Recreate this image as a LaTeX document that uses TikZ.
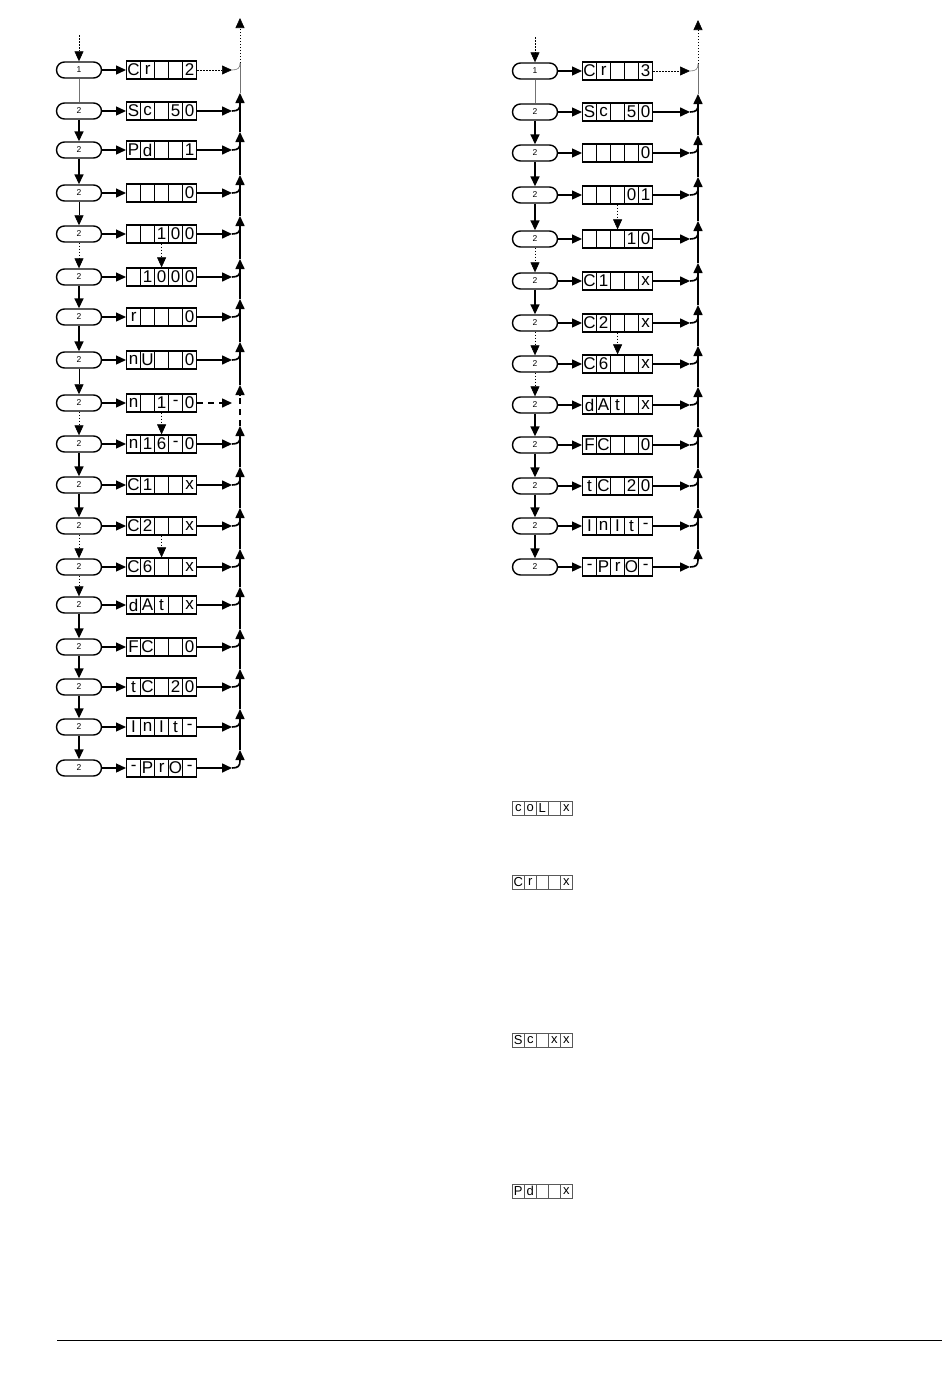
\documentclass[tikz,border=0pt]{standalone}
\usepackage{fontspec}
\setmainfont{Liberation Sans}
\usetikzlibrary{arrows.meta,positioning,calc}

\begin{document}
\begin{tikzpicture}[x=1pt, y=-1pt,
    keybox/.style={draw, line width=1.4pt, rounded corners=8pt, minimum width=45pt, minimum height=16pt, inner sep=0pt, font=\fontsize{8.5}{8.5}\selectfont},
    digit/.style={draw, line width=1.2pt, minimum width=14pt, minimum height=18pt, inner sep=0pt, anchor=west, font=\fontsize{17}{17}\selectfont},
    minidigit/.style={draw=black!65, line width=0.5pt, minimum width=12pt, minimum height=14pt, inner sep=0pt, anchor=west, font=\fontsize{13}{13}\selectfont},
    flow/.style={line width=1.6pt, -{Triangle[length=10pt,width=9pt]}},
    feed/.style={line width=1.3pt, -{Triangle[length=10pt,width=9pt]}},
    slim/.style={line width=0.7pt, -{Triangle[length=10pt,width=9pt]}},
    bus/.style={line width=1.6pt},
    hint/.style={line width=0.6pt, dash pattern=on 1.5pt off 1.5pt, -{Triangle[length=10pt,width=9pt]}},
    faint/.style={line width=0.6pt, black!55},
    gapline/.style={line width=1.6pt, dash pattern=on 6pt off 5pt}
]
\useasboundingbox (0,0) rectangle (950,1379);

% left column
\foreach \y/\digits [count=\i] in {
    70/{C,r,{},{},2}, 111/{S,c,{},5,0}, 150/{P,d,{},{},1}, 193/{{},{},{},{},0},
    234/{{},{},1,0,0}, 277/{{},1,0,0,0}, 317/{r,{},{},{},0}, 360/{n,U,{},{},0},
    403/{n,{},1,-,0}, 444/{n,1,6,-,0}, 485/{C,1,{},{},x}, 526/{C,2,{},{},x},
    567/{C,6,{},{},x}, 605/{d,A,t,{},x}, 647/{F,C,{},{},0}, 687/{t,C,{},2,0},
    727/{I,n,I,t,-}, 768/{-,P,r,O,-}}
{
    \node[keybox] (lk\i) at (79,\y) {\ifnum\i=1 1\else 2\fi};
    \foreach \ch [count=\k] in \digits
        \node[digit] (l\i-\k) at ({126+14*(\k-1)},\y) {\ch};
    \coordinate (lj\i) at (232,\y);
    \coordinate (lv\i) at (240,\y-7);
    \coordinate (lt\i) at (240,\y-18);
}
\coordinate (lin) at (79,35);
\coordinate (ltop) at (240,18);

\foreach \i in {1,...,18}
    \draw[feed] (lk\i) -- (l\i-1);
\foreach \i in {2,3,4,5,6,7,8,10,11,12,13,14,15,16,17,18} {
    \draw[flow] (l\i-5) -- (lj\i);
    \draw[bus] (lj\i) .. controls +(6,0) and +(0,5) .. (lv\i);
}
\foreach \i in {2,...,18}
    \draw[flow] (lv\i) -- (lt\i);
\foreach \i [evaluate=\i as \j using int(\i+1)] in {2,3,4,5,6,7,8,10,11,12,13,14,15,16,17}
    \draw[bus] (lt\j) -- (lv\i);
\draw[gapline] (lt10) -- (lv9);
\draw[gapline, -{Triangle[length=10pt,width=9pt]}] (l9-5) -- (lj9);

% first row of the left column
\draw[hint] (lin) -- (lk1);
\draw[faint] (lk1) -- (lk2);
\draw[hint] (l1-5) -- (lj1);
\draw[faint] (lj1) .. controls +(6,0) and +(0,5) .. (lv1);
\draw[faint] (lt2) -- (lv1);
\draw[hint] (lv1) -- (ltop);

\foreach \i/\j in {2/3,3/4,6/7,7/8,10/11,11/12,14/15,15/16,16/17,17/18}
    \draw[flow] (lk\i) -- (lk\j);
\foreach \i/\j in {4/5,8/9}
    \draw[slim] (lk\i) -- (lk\j);
\foreach \i/\j in {5/6,9/10,12/13,13/14}
    \draw[hint] (lk\i) -- (lk\j);
\foreach \i/\j in {5/6,9/10,12/13}
    \draw[hint] (l\i-3) -- (l\j-3);

% right column
\foreach \y/\digits [count=\i] in {
    71/{C,r,{},{},3}, 112/{S,c,{},5,0}, 153/{{},{},{},{},0}, 195/{{},{},{},0,1},
    239/{{},{},{},1,0}, 281/{C,1,{},{},x}, 323/{C,2,{},{},x}, 364/{C,6,{},{},x},
    405/{d,A,t,{},x}, 445/{F,C,{},{},0}, 486/{t,C,{},2,0}, 526/{I,n,I,t,-},
    567/{-,P,r,O,-}}
{
    \node[keybox] (rk\i) at (535,\y) {\ifnum\i=1 1\else 2\fi};
    \foreach \ch [count=\k] in \digits
        \node[digit] (r\i-\k) at ({582+14*(\k-1)},\y) {\ch};
    \coordinate (rj\i) at (690,\y);
    \coordinate (rv\i) at (698,\y-7);
    \coordinate (rt\i) at (698,\y-18);
}
\coordinate (rin) at (535,37);
\coordinate (rtop) at (698,20);

\foreach \i in {1,...,13}
    \draw[feed] (rk\i) -- (r\i-1);
\foreach \i in {2,...,13} {
    \draw[flow] (r\i-5) -- (rj\i);
    \draw[bus] (rj\i) .. controls +(6,0) and +(0,5) .. (rv\i);
    \draw[flow] (rv\i) -- (rt\i);
}
\foreach \i [evaluate=\i as \j using int(\i+1)] in {2,...,12}
    \draw[bus] (rt\j) -- (rv\i);

% first row of the right column
\draw[hint] (rin) -- (rk1);
\draw[faint] (rk1) -- (rk2);
\draw[hint] (r1-5) -- (rj1);
\draw[faint] (rj1) .. controls +(6,0) and +(0,5) .. (rv1);
\draw[faint] (rt2) -- (rv1);
\draw[hint] (rv1) -- (rtop);

\foreach \i/\j in {2/3,3/4,4/5,6/7,9/10,10/11,11/12,12/13}
    \draw[flow] (rk\i) -- (rk\j);
\foreach \i/\j in {5/6,7/8,8/9}
    \draw[hint] (rk\i) -- (rk\j);
\foreach \i/\j in {4/5,7/8}
    \draw[hint] (r\i-3) -- (r\j-3);

% small displays
\foreach \y/\digits [count=\i] in {808/{c,o,L,{},x}, 882/{C,r,{},{},x}, 1040/{S,c,{},x,x}, 1191/{P,d,{},{},x}}
    \foreach \ch [count=\k] in \digits
        \node[minidigit] (m\i-\k) at ({512+12*(\k-1)},\y) {\ch};

% page rule
\coordinate (ruleA) at (57,1340);
\coordinate (ruleB) at (942,1340);
\draw[line width=1pt] (ruleA) -- (ruleB);
\end{tikzpicture}
\end{document}
